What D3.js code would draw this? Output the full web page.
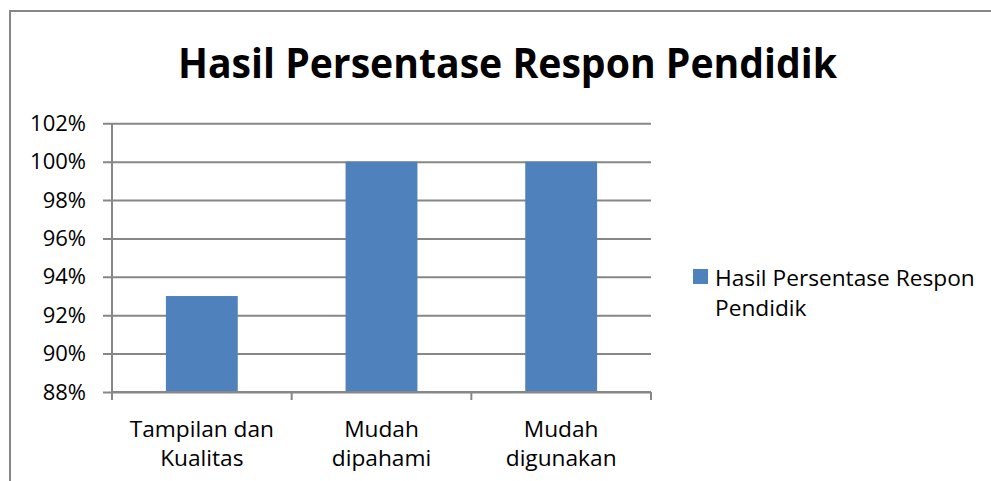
<!DOCTYPE html>
<html>
<head>
<meta charset="utf-8">
<script src="https://cdn.jsdelivr.net/npm/d3@7"></script>
<style>
  html, body { margin: 0; padding: 0; background: #fff; }
  svg { display: block; font-family: "Open Sans", sans-serif; }
</style>
</head>
<body>
<div id="main"></div>
<script>
const chartTitle = 'Hasil Persentase Respon Pendidik';
const seriesName = 'Hasil Persentase Respon Pendidik';
const categories = ['Tampilan dan\nKualitas', 'Mudah\ndipahami', 'Mudah\ndigunakan'];
const values     = [0.93, 1.00, 1.00];
const yTicks     = [0.88, 0.90, 0.92, 0.94, 0.96, 0.98, 1.00, 1.02];

document.addEventListener('DOMContentLoaded', () => {
  const width = 991, height = 481;
  const plot = { left: 112, right: 651, top: 123.3, bottom: 392 };
  const grid = '#878787', barFill = '#4f81bd';

  const svg = d3.select('#main').append('svg')
    .attr('width', width).attr('height', height)
    .attr('viewBox', [0, 0, width, height]);

  // chart frame (runs off right and bottom edges)
  svg.append('path')
    .attr('d', `M10,${height + 5}V11H${width + 5}`)
    .attr('fill', 'none').attr('stroke', grid).attr('stroke-width', 2);

  svg.append('text')
    .attr('x', 507.5).attr('y', 78)
    .attr('text-anchor', 'middle')
    .attr('font-size', 41).attr('font-weight', 700)
    .attr('textLength', 659).attr('lengthAdjust', 'spacingAndGlyphs')
    .text(chartTitle);

  const x = d3.scaleBand()
    .domain(categories)
    .range([plot.left, plot.right])
    .paddingInner(0.6).paddingOuter(0.3);

  const y = d3.scaleLinear()
    .domain([yTicks[0], yTicks[yTicks.length - 1]])
    .range([plot.bottom, plot.top]);

  // gridlines + left axis
  const ay = d3.axisLeft(y).tickValues(yTicks)
    .tickFormat(d3.format('.0%')).tickSize(9).tickPadding(17);
  const gy = svg.append('g').attr('transform', `translate(${plot.left},0)`).call(ay);
  gy.select('.domain').remove();
  gy.selectAll('.tick line').attr('stroke', grid).attr('stroke-width', 2)
    .attr('x1', plot.right - plot.left).attr('x2', -9);
  gy.selectAll('.tick text').attr('font-size', 22).attr('fill', '#000')
    .attr('font-family', '"Open Sans", sans-serif');

  svg.append('line')
    .attr('x1', plot.left).attr('x2', plot.left)
    .attr('y1', plot.top).attr('y2', plot.bottom + 8)
    .attr('stroke', grid).attr('stroke-width', 2);

  // bars
  svg.append('g').selectAll('rect').data(values).join('rect')
    .attr('x', (d, i) => x(categories[i]))
    .attr('width', x.bandwidth())
    .attr('y', d => y(d))
    .attr('height', d => y(yTicks[0]) - y(d))
    .attr('fill', barFill);

  // bottom axis
  svg.append('line')
    .attr('x1', plot.left).attr('x2', plot.right)
    .attr('y1', plot.bottom).attr('y2', plot.bottom)
    .attr('stroke', grid).attr('stroke-width', 2);
  const edges = categories.map(c => x(c) - x.step() * x.paddingInner() / 2);
  edges[0] = plot.left;
  edges.push(plot.right);
  svg.append('g').selectAll('line').data(edges).join('line')
    .attr('x1', d => d).attr('x2', d => d)
    .attr('y1', plot.bottom).attr('y2', plot.bottom + 8)
    .attr('stroke', grid).attr('stroke-width', 2);

  svg.append('g').selectAll('text').data(categories).join('text')
    .attr('x', d => x(d) + x.bandwidth() / 2)
    .attr('y', 436.7)
    .attr('text-anchor', 'middle').attr('font-size', 22.7)
    .selectAll('tspan').data(d => d.split('\n')).join('tspan')
      .attr('x', function () { return this.parentNode.getAttribute('x'); })
      .attr('dy', (d, i) => i ? 29.3 : 0)
      .text(d => d);

  // legend
  const lg = svg.append('g');
  lg.append('rect').attr('x', 693).attr('y', 269).attr('width', 15).attr('height', 15)
    .attr('fill', barFill);
  const words = seriesName.split(' ');
  lg.append('text').attr('x', 715).attr('y', 285.7).attr('font-size', 22.7)
    .selectAll('tspan').data([words.slice(0, 3).join(' '), words.slice(3).join(' ')]).join('tspan')
      .attr('x', 715).attr('dy', (d, i) => i ? 30 : 0)
      .text(d => d);
});
</script>
</body>
</html>
